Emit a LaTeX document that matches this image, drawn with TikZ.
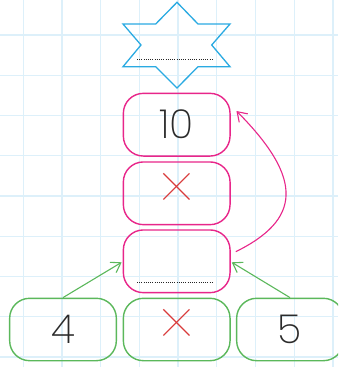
\documentclass[tikz,border=0pt]{standalone}
\usepackage{fontspec}
\usetikzlibrary{arrows.meta,calc}
\IfFontExistsTF{Poppins ExtraLight}{\newfontfamily\numfont{Poppins ExtraLight}}{%
  \IfFontExistsTF{Poppins Light}{\newfontfamily\numfont{Poppins Light}}{\newfontfamily\numfont{Lato}}}
\IfFontExistsTF{Poppins Thin}{\newfontfamily\xfont{Poppins Thin}}{\newfontfamily\xfont{Lato}}
\newcommand{\bigtimes}{\scalebox{1.75}{\xfont\fontsize{40}{40}\selectfont ×}}
\definecolor{gridc}{HTML}{DDF0FA}
\definecolor{pinkc}{HTML}{E8268A}
\definecolor{greenc}{HTML}{5BB85B}
\definecolor{bluec}{HTML}{2AAAE2}
\definecolor{redc}{HTML}{D93A3A}
\definecolor{textc}{HTML}{2B2B2B}
\tikzset{
  gridline/.style={gridc, line width=1.3pt},
  basebox/.style={rectangle, rounded corners=20pt, line width=1.4pt, minimum width=106.7pt, inner sep=0pt, text=textc, font=\numfont\fontsize{40}{40}\selectfont},
  pinkbox/.style={basebox, draw=pinkc, minimum height=62.7pt},
  greenbox/.style={basebox, draw=greenc, minimum height=62.4pt},
  timesmark/.style={text=redc, inner sep=0pt},
  dotline/.style={line width=1pt, dash pattern=on 1pt off 1.2pt, black!85},
  garrow/.style={greenc, line width=1.1pt, -{Straight Barb[length=9pt,width=12pt,line width=1.1pt]}},
  parrow/.style={pinkc, line width=1.1pt, -{Straight Barb[length=9pt,width=12pt,line width=1.1pt]}},
}
\begin{document}
\begin{tikzpicture}[x=1pt,y=-1pt]
\useasboundingbox (0,0) rectangle (338,367);
\clip (0,0) rectangle (338,367);
\fill[white] (0,0) rectangle (338,367);
% grid
\foreach \x in {23.3,62,100.7,139.4,178.1,216.8,255.5,294.2,332.9}
  \draw[gridline] (\x,0) -- (\x,367);
\foreach \y in {35,75.2,115.5,155.7,196,236.2,276.5,316.7,357}
  \draw[gridline] (0,\y) -- (338,\y);
% star
\draw[bluec, line width=1.3pt, line join=miter]
  (177,2.3) -- (198,24) -- (230,24) -- (211.7,45) -- (230,66.7) -- (198,66.7)
  -- (177,88) -- (155.7,66.7) -- (123,66.7) -- (141,45) -- (123,24) -- (155.7,24) -- cycle;
\draw[dotline] (137,59.3) -- (214,59.3);
% pink boxes
\node[pinkbox] (p1) at (176.7,124.7) {10};
\node[pinkbox] (p2) at (176.7,193.3) {};
\node[timesmark] (x1) at (p2.center) {\bigtimes};
\node[pinkbox] (p3) at (176.7,261.3) {};
\draw[dotline] ($(p3.center)+(-39.7,20.7)$) -- ($(p3.center)+(37.3,20.7)$);
% green boxes
\node[greenbox] (g1) at (63,329.5) {4};
\node[greenbox] (g2) at (176.7,329.5) {};
\node[timesmark] (x2) at (g2.center) {\bigtimes};
\node[greenbox] (g3) at (290,329.5) {5};
% arrows
\draw[garrow] (g1.north) -- ($(p3.west)+(-1,1)$);
\draw[garrow] (g3.north) -- ($(p3.east)+(1,1)$);
\draw[parrow] ($(p3.east)+(5,-9.6)$) .. controls (300,220) and (305,180) .. ($(p1.east)+(5.7,-13.7)$);
\end{tikzpicture}
\end{document}
